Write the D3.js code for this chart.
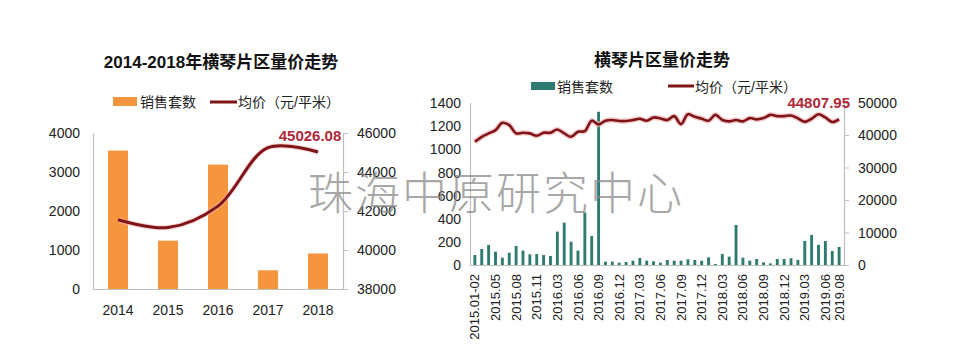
<!DOCTYPE html>
<html><head><meta charset="utf-8">
<script src="https://cdn.jsdelivr.net/npm/d3@7"></script>
<style>
html,body{margin:0;padding:0;background:#fff;}
svg{display:block;font-family:"Liberation Sans","Noto Sans CJK SC",sans-serif;}
</style></head>
<body>
<svg id="c" width="956" height="355"></svg>
<script>
// ---- Left chart data ----
const years = ["2014","2015","2016","2017","2018"];
const yearSales = [3550, 1240, 3190, 480, 910];
const yearPrice = [41550, 41150, 42250, 45250, 45026.08];
const leftTicksL = [0, 1000, 2000, 3000, 4000];
const leftTicksR = [38000, 40000, 42000, 44000, 46000];

// ---- Right chart data ----
const months = ["2015.01-02","2015.03","2015.04","2015.05","2015.06","2015.07","2015.08","2015.09","2015.10","2015.11","2015.12","2016.01-02",
"2016.03","2016.04","2016.05","2016.06","2016.07","2016.08","2016.09","2016.10","2016.11","2016.12",
"2017.01","2017.02","2017.03","2017.04","2017.05","2017.06","2017.07","2017.08","2017.09","2017.10","2017.11","2017.12",
"2018.01","2018.02","2018.03","2018.04","2018.05","2018.06","2018.07","2018.08","2018.09","2018.10","2018.11","2018.12",
"2019.01","2019.02","2019.03","2019.04","2019.05","2019.06","2019.07","2019.08"];
const monthSales = [86,138,173,115,63,106,164,124,92,95,86,78,
288,365,201,124,452,250,1320,29,29,20,
26,37,60,37,32,20,43,37,37,49,43,37,
66,9,95,72,345,63,37,52,23,14,52,52,
58,43,207,259,173,207,121,155];
const monthPrice = [37900,39450,40500,41500,43750,43050,40500,40700,40500,39750,40700,40700,
41700,40500,39450,41000,41200,44400,43250,44400,44600,44300,
44300,44600,45000,44400,45400,45100,44600,45800,43350,46400,45600,45000,
44400,46200,44600,44200,44600,44200,45200,44800,45200,46200,45800,45800,
46000,45100,44050,45000,46400,45400,44000,44807.95];
const monthLabels = ["2015.01-02","2015.05","2015.08","2015.11","2016.03","2016.06","2016.09","2016.12","2017.03","2017.06","2017.09","2017.12","2018.03","2018.06","2018.09","2018.12","2019.03","2019.06","2019.08"];
const rightTicksL = [0,200,400,600,800,1000,1200,1400];
const rightTicksR = [0,10000,20000,30000,40000,50000];

const svg = d3.select("#c");
const ORANGE = "#F5963F", TEAL = "#2F7B70", RED = "#7E1418", HALO = "#F3B9B9", LAB = "#B0283A";
const AX = "#BFBFBF", TXT = "#222";
const fmt = d3.format("d");

// ================= Left chart =================
{
  const g = svg.append("g");
  const x = d3.scaleBand().domain(years).range([93, 343]).paddingInner(0.6).paddingOuter(0.3);
  const yL = d3.scaleLinear().domain([0, 4000]).range([289, 133]);
  const yR = d3.scaleLinear().domain([38000, 46000]).range([289, 133]);

  g.append("text").attr("x", 221).attr("y", 68).attr("text-anchor", "middle")
    .attr("font-size", 17).attr("font-weight", "bold").attr("fill", "#111")
    .text("2014-2018年横琴片区量价走势");

  g.append("rect").attr("x", 113).attr("y", 97).attr("width", 24).attr("height", 9).attr("fill", ORANGE);
  g.append("text").attr("x", 140).attr("y", 107).attr("font-size", 14).attr("fill", TXT).text("销售套数");
  g.append("line").attr("x1", 210).attr("x2", 237).attr("y1", 102).attr("y2", 102).attr("stroke", RED).attr("stroke-width", 3);
  g.append("text").attr("x", 238).attr("y", 107).attr("font-size", 14).attr("fill", TXT).text("均价（元/平米）");

  g.selectAll("rect.bar").data(years).join("rect").attr("class", "bar")
    .attr("x", d => x(d)).attr("width", x.bandwidth())
    .attr("y", (d, i) => yL(yearSales[i])).attr("height", (d, i) => yL(0) - yL(yearSales[i]))
    .attr("fill", ORANGE);

  const axL = g.append("g").attr("transform", "translate(93,0)")
    .call(d3.axisLeft(yL).tickValues(leftTicksL).tickSize(0).tickPadding(13).tickFormat(fmt));
  const axR = g.append("g").attr("transform", "translate(343,0)")
    .call(d3.axisRight(yR).tickValues(leftTicksR).tickSize(5).tickPadding(9).tickFormat(fmt));
  const axB = g.append("g").attr("transform", "translate(0,289)")
    .call(d3.axisBottom(x).tickSize(0).tickPadding(16));
  [axL, axR, axB].forEach(a => {
    a.select(".domain").attr("stroke", AX).attr("stroke-width", 1.2);
    a.selectAll(".tick line").attr("stroke", AX);
    a.selectAll("text").attr("font-size", 14).attr("fill", TXT).attr("font-family", "Liberation Sans, sans-serif");
  });
  axL.selectAll("text").attr("dy", "0.35em");
  axR.selectAll("text").attr("dy", "0.35em");

  const line = d3.line().x((d, i) => x(years[i]) + x.bandwidth() / 2).y(d => yR(d)).curve(d3.curveCatmullRom.alpha(0.5));
  g.append("path").attr("d", line(yearPrice)).attr("fill", "none").attr("stroke", HALO).attr("stroke-width", 5).attr("opacity", 0.6);
  g.append("path").attr("d", line(yearPrice)).attr("fill", "none").attr("stroke", RED).attr("stroke-width", 3);

  g.append("text").attr("x", x("2018") + x.bandwidth() / 2 - 8).attr("y", yR(yearPrice[4]) - 11)
    .attr("text-anchor", "middle").attr("font-size", 15).attr("font-weight", "bold").attr("fill", LAB)
    .text(d3.format(".2f")(yearPrice[4]));
}

// ================= Right chart =================
{
  const g = svg.append("g");
  const x = d3.scaleBand().domain(months).range([470, 844]).paddingInner(0.58).paddingOuter(0.5);
  const yL = d3.scaleLinear().domain([0, 1400]).range([265, 102.5]);
  const yR = d3.scaleLinear().domain([0, 50000]).range([265, 102.5]);

  g.append("text").attr("x", 662).attr("y", 66).attr("text-anchor", "middle")
    .attr("font-size", 17).attr("font-weight", "bold").attr("fill", "#111")
    .text("横琴片区量价走势");

  g.append("rect").attr("x", 531).attr("y", 82).attr("width", 24).attr("height", 8).attr("fill", TEAL);
  g.append("text").attr("x", 557).attr("y", 92).attr("font-size", 14).attr("fill", TXT).text("销售套数");
  g.append("line").attr("x1", 668).attr("x2", 694).attr("y1", 86).attr("y2", 86).attr("stroke", RED).attr("stroke-width", 3);
  g.append("text").attr("x", 695).attr("y", 92).attr("font-size", 14).attr("fill", TXT).text("均价（元/平米）");

  g.selectAll("rect.bar").data(months).join("rect").attr("class", "bar")
    .attr("x", d => x(d)).attr("width", x.bandwidth())
    .attr("y", (d, i) => yL(monthSales[i])).attr("height", (d, i) => yL(0) - yL(monthSales[i]))
    .attr("fill", TEAL);

  const axL = g.append("g").attr("transform", "translate(470,0)")
    .call(d3.axisLeft(yL).tickValues(rightTicksL).tickSize(0).tickPadding(9).tickFormat(fmt));
  const axR = g.append("g").attr("transform", "translate(844,0)")
    .call(d3.axisRight(yR).tickValues(rightTicksR).tickSize(5).tickPadding(9).tickFormat(fmt));
  const axB = g.append("g").attr("transform", "translate(0,265)")
    .call(d3.axisBottom(x).tickValues(monthLabels).tickSize(0).tickPadding(0));
  [axL, axR, axB].forEach(a => {
    a.select(".domain").attr("stroke", AX).attr("stroke-width", 1.2);
    a.selectAll(".tick line").attr("stroke", AX);
    a.selectAll("text").attr("font-size", 14).attr("fill", TXT).attr("font-family", "Liberation Sans, sans-serif");
  });
  axL.selectAll("text").attr("dy", "0.35em");
  axR.selectAll("text").attr("dy", "0.35em");
  axB.selectAll("text").attr("font-size", 13)
    .attr("text-anchor", "end").attr("dy", "0.35em").attr("y", 0)
    .attr("transform", "translate(0,9) rotate(-90)").attr("x", 0);

  const line = d3.line().x((d, i) => x(months[i]) + x.bandwidth() / 2).y(d => yR(d)).curve(d3.curveCatmullRom.alpha(0.5));
  g.append("path").attr("d", line(monthPrice)).attr("fill", "none").attr("stroke", HALO).attr("stroke-width", 5.5).attr("opacity", 0.7);
  g.append("path").attr("d", line(monthPrice)).attr("fill", "none").attr("stroke", RED).attr("stroke-width", 2.6);

  g.append("text").attr("x", 850).attr("y", 108).attr("text-anchor", "end")
    .attr("font-size", 15).attr("font-weight", "bold").attr("fill", LAB)
    .text(d3.format(".2f")(monthPrice[monthPrice.length - 1]));
}

// watermark
svg.append("text").attr("x", 496).attr("y", 210).attr("text-anchor", "middle")
  .attr("font-size", 45).attr("font-weight", 300).attr("letter-spacing", 2)
  .attr("font-family", "Noto Sans CJK SC, sans-serif")
  .attr("fill", "#8a8a8a").attr("opacity", 0.75).text("珠海中原研究中心");
</script>
</body></html>
